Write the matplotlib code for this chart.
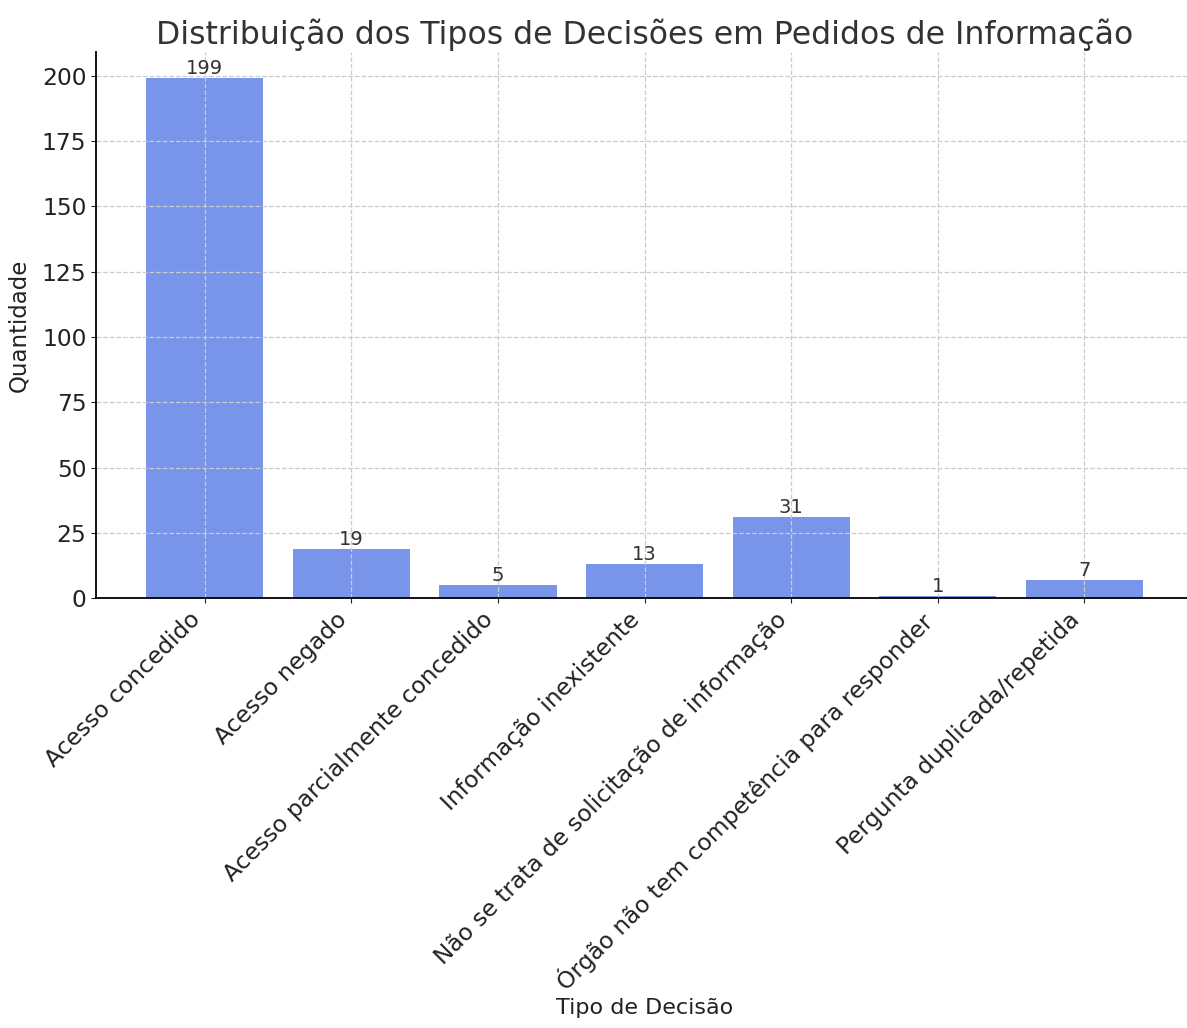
import matplotlib
matplotlib.use('Agg')
import matplotlib.pyplot as plt

# Decision types and counts
categorias = ['Acesso concedido', 'Acesso negado', 'Acesso parcialmente concedido',
              'Informação inexistente', 'Não se trata de solicitação de informação',
              'Órgão não tem competência para responder', 'Pergunta duplicada/repetida']
quantidades = [199, 19, 5, 13, 31, 1, 7]

fig = plt.figure(figsize=(11.87, 10.28), dpi=100)
ax = fig.add_axes([0.081, 0.418, 0.924, 0.531])

bars = ax.bar(categorias, quantidades, color='royalblue', alpha=0.7)
for b, v in zip(bars, quantidades):
    ax.text(b.get_x() + b.get_width() / 2, v, str(v), ha='center', va='bottom',
            fontsize=14, color='#333333')

ax.set_title('Distribuição dos Tipos de Decisões em Pedidos de Informação',
             fontsize=22.7, color='#333333')
ax.set_xlabel('Tipo de Decisão', fontsize=16, color='#222222', labelpad=2)
ax.set_ylabel('Quantidade', fontsize=16.5, color='#222222', labelpad=8)
ax.tick_params(axis='both', labelsize=16.8, colors='#222222')
plt.setp(ax.get_xticklabels(), rotation=45, ha='right')
ax.grid(True, linestyle='--', color='#cccccc', linewidth=0.9)
ax.spines['top'].set_visible(False)
ax.spines['right'].set_visible(False)
ax.spines['left'].set_linewidth(1.3)
ax.spines['bottom'].set_linewidth(1.3)

fig.savefig('out.png', dpi=100)
